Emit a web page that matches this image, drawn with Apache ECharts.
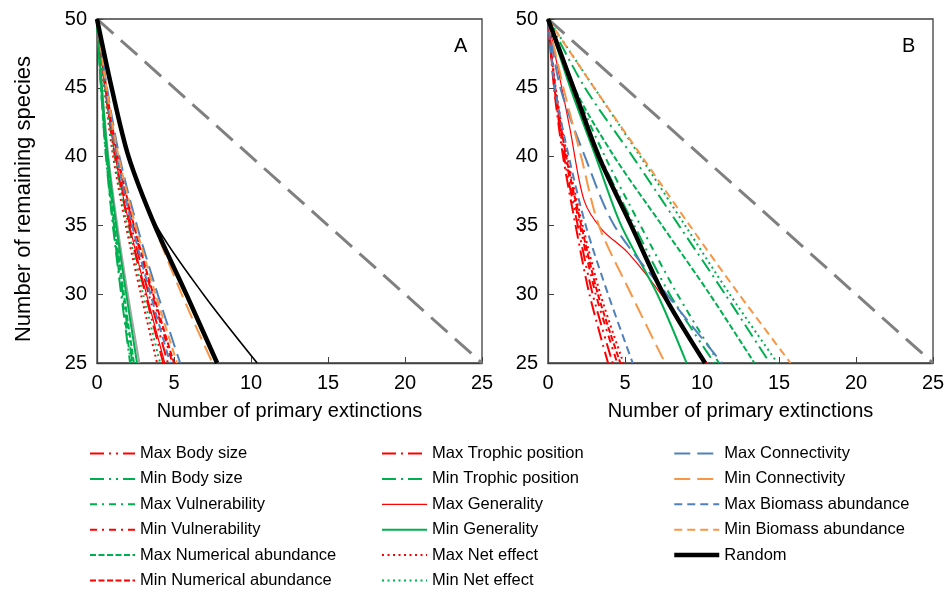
<!DOCTYPE html>
<html>
<head>
<meta charset="utf-8">
<script src="https://cdn.jsdelivr.net/npm/echarts@6/dist/echarts.min.js"></script>
<style>
  html, body { margin: 0; padding: 0; background: #fff; }
  #chart { width: 948px; height: 595px; }
</style>
</head>
<body>
<div id="chart"></div>
<script>
const yLevels = [50, 45, 40, 35, 30, 25]

const seriesNames = [
  'Max Body size', 'Min Body size', 'Max Vulnerability', 'Min Vulnerability',
  'Max Numerical abundance', 'Min Numerical abundance',
  'Max Trophic position', 'Min Trophic position', 'Max Generality', 'Min Generality',
  'Max Net effect', 'Min Net effect',
  'Max Connectivity', 'Min Connectivity', 'Max Biomass abundance', 'Min Biomass abundance',
  'Random'
]

// primary extinctions at each y level, panel A (same order as seriesNames)
const panelA = [
  [0, 0.55, 1.24, 2.21, 3.36, 4.6],
  [0, 0.28, 0.62, 1.10, 1.68, 2.3],
  [0, 0.26, 0.59, 1.06, 1.61, 2.2],
  [0, 0.59, 1.32, 2.35, 3.58, 4.9],
  [0, 0.29, 0.65, 1.15, 1.75, 2.4],
  [0, 0.60, 1.35, 2.40, 3.65, 5.0],
  [0, 0.52, 1.16, 2.06, 3.14, 4.3],
  [0, 0.26, 0.58, 1.03, 1.57, 2.15],
  [0, 0.53, 1.19, 2.11, 3.21, 4.4],
  [0, 0.31, 0.70, 1.25, 1.90, 2.6],
  [0, 0.47, 1.05, 1.87, 2.85, 3.9],
  [0, 0.49, 1.11, 1.97, 2.99, 4.1],
  [0, 0.65, 1.46, 2.59, 3.94, 5.4],
  [0, 0.95, 2.10, 3.70, 5.50, 7.5],
  [0, 0.57, 1.28, 2.28, 3.47, 4.75],
  [0, 0.62, 1.40, 2.50, 3.80, 5.2],
  [0, 0.95, 2.05, 3.75, 5.80, 7.8]
]

// panel B (Max Generality is read on its own levels below)
const panelB = [
  [0, 0.42, 1.05, 1.93, 2.90, 4.2],
  [0, 1.60, 3.40, 5.60, 7.90, 10.8],
  [0, 1.70, 3.70, 6.00, 8.40, 11.1],
  [0, 0.45, 1.13, 2.07, 3.10, 4.5],
  [0, 1.70, 4.30, 7.40, 10.5, 13.4],
  [0, 0.47, 1.18, 2.16, 3.24, 4.7],
  [0, 0.39, 0.98, 1.79, 2.69, 3.9],
  [0, 2.40, 5.50, 8.50, 11.5, 14.4],
  null,
  [0, 1.45, 3.10, 4.75, 7.10, 9.0],
  [0, 0.50, 1.25, 2.25, 3.40, 4.9],
  [0, 3.00, 6.00, 8.90, 11.8, 14.9],
  [0, 0.80, 2.40, 4.30, 7.70, 11.3],
  [0, 1.00, 2.15, 3.30, 5.40, 7.6],
  [0, 0.45, 1.35, 2.45, 3.90, 5.5],
  [0, 3.00, 6.10, 9.20, 12.4, 15.75],
  [0, 1.65, 3.30, 5.40, 7.50, 10.2]
]
const maxGenBX = [0, 1.43, 2.35, 3.5, 5.2, 7.6, 8.6, 10.3]
const maxGenBY = [50, 42, 36.8, 34.7, 33, 29.6, 27.7, 25]

// unlabelled curves in panel A
const thinBlackA = [0, 0.95, 2.05, 3.85, 6.90, 10.4]
const greySolidA = [0, 0.33, 0.74, 1.32, 2.00, 2.75]
// one-to-one reference line
const diagX = [0, 25]
const diagY = [50, 25]

const legendCols = [
  seriesNames.slice(0, 6),
  seriesNames.slice(6, 12),
  seriesNames.slice(12)
]

const RED = '#FF0000', GREEN = '#00B050', BLUE = '#4F81BD', ORANGE = '#F79646'
const lineColors = [RED, GREEN, GREEN, RED, GREEN, RED, RED, GREEN, RED, GREEN, RED, GREEN,
  BLUE, ORANGE, BLUE, ORANGE, '#000000']
const lgDashDotDot = [14, 5, 2, 5, 2, 5]
const lgDashDot = [14, 5, 2, 5]
const dashDot = [7, 5, 2, 5]
const sysDash = [6, 2.5]
const roundDot = [2, 3.5]
const lgDash = [16, 7]
const dash = [8, 5]
const lineDash = [lgDashDotDot, lgDashDotDot, dashDot, dashDot, sysDash, sysDash,
  lgDashDot, lgDashDot, 'solid', 'solid', roundDot, roundDot,
  lgDash, lgDash, dash, dash, 'solid']
const lineWidths = [2, 2, 2, 2, 2, 2, 2, 2, 1.2, 2, 2, 2, 2, 2, 2, 2, 4.5]

const font = 'Liberation Sans, Arial, sans-serif'
const pairs = (xs, ys) => xs.map((x, i) => [x, ys[i]])

const chart = echarts.init(document.getElementById('chart'))

const xAxisFor = (gi) => ({
  type: 'value', gridIndex: gi, min: 0, max: 25, interval: 5,
  name: 'Number of primary extinctions', nameLocation: 'middle', nameGap: 38,
  nameTextStyle: { fontSize: 20, color: '#000', fontFamily: font },
  axisLine: { lineStyle: { color: '#404040', width: 1.3 } },
  axisTick: { inside: true, length: 6, lineStyle: { color: '#404040' } },
  axisLabel: { fontSize: 20, color: '#000', margin: 10, fontFamily: font },
  splitLine: { show: false }
})
const yAxisFor = (gi, name) => ({
  type: 'value', gridIndex: gi, min: 25, max: 50, interval: 5,
  name: name, nameLocation: 'middle', nameGap: 62,
  nameTextStyle: { fontSize: 22, color: '#000', fontFamily: font, padding: [0, 16, 0, 0] },
  axisLine: { show: true, lineStyle: { color: '#404040', width: 1.3 } },
  axisTick: { show: true, inside: true, length: 6, lineStyle: { color: '#404040' } },
  axisLabel: { fontSize: 20, color: '#000', margin: 10, fontFamily: font },
  splitLine: { show: false }
})

const series = []
;[panelA, panelB].forEach((panel, gi) => {
  series.push({
    type: 'line', xAxisIndex: gi, yAxisIndex: gi, symbol: 'none', silent: true,
    data: pairs(diagX, diagY),
    lineStyle: { color: '#808080', width: 3, type: [22, 10] }
  })
  if (gi === 0) {
    series.push({
      type: 'line', xAxisIndex: 0, yAxisIndex: 0, symbol: 'none', smooth: 0.3, silent: true,
      data: pairs(greySolidA, yLevels),
      lineStyle: { color: '#A6A6A6', width: 2 }
    })
  }
  panel.forEach((xs, i) => {
    const data = xs ? pairs(xs, yLevels) : pairs(maxGenBX, maxGenBY)
    series.push({
      name: seriesNames[i], type: 'line', xAxisIndex: gi, yAxisIndex: gi,
      symbol: 'none', smooth: 0.3,
      data: data,
      itemStyle: { color: lineColors[i], opacity: 0 },
      lineStyle: { color: lineColors[i], width: lineWidths[i], type: lineDash[i] }
    })
  })
  if (gi === 0) {
    series.push({
      type: 'line', xAxisIndex: 0, yAxisIndex: 0, symbol: 'none', smooth: 0.3, silent: true,
      data: pairs(thinBlackA, yLevels),
      lineStyle: { color: '#000', width: 1.6 }
    })
  }
})

const legendLeft = [89, 381, 672]

chart.setOption({
  animation: false,
  title: [
    { text: 'A', left: 449, top: 31, textStyle: { fontSize: 20, fontWeight: 'normal', color: '#000', fontFamily: font } },
    { text: 'B', left: 897, top: 31, textStyle: { fontSize: 20, fontWeight: 'normal', color: '#000', fontFamily: font } }
  ],
  grid: [
    { left: 97, top: 19, width: 385, height: 344, show: true, borderColor: '#404040', borderWidth: 1.3 },
    { left: 548, top: 19, width: 385, height: 344, show: true, borderColor: '#404040', borderWidth: 1.3 }
  ],
  xAxis: [xAxisFor(0), xAxisFor(1)],
  yAxis: [yAxisFor(0, 'Number of remaining species'), yAxisFor(1, '')],
  legend: legendCols.map((col, c) => ({
    data: col, orient: 'vertical', left: legendLeft[c], top: 445, height: 150, padding: 0,
    itemWidth: 45, itemHeight: 14, itemGap: 8.4,
    itemStyle: { opacity: 0 },
    lineStyle: { width: 'inherit' },
    textStyle: { fontSize: 16.5, color: '#000', fontFamily: font }
  })),
  series: series
})
</script>
</body>
</html>
